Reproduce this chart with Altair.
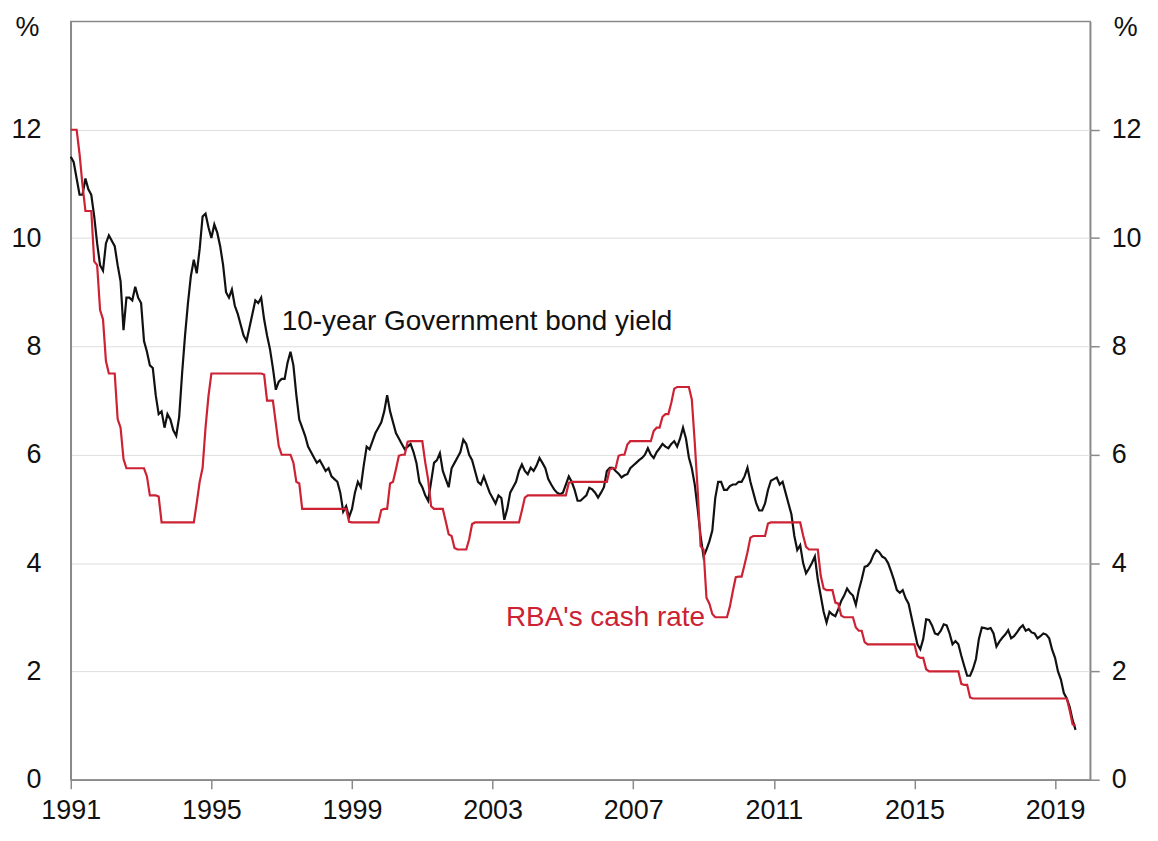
import altair as alt
import pandas as pd

# Monthly values, Jan 1991 .. Aug 2019
bond_yield = [
    11.5, 11.4, 11.1, 10.8, 10.8, 11.1, 10.9, 10.8, 10.4, 9.9, 9.5, 9.4,      # 1991
    9.9, 10.05, 9.95, 9.85, 9.5, 9.2, 8.3, 8.9, 8.9, 8.85, 9.1, 8.9,          # 1992
    8.8, 8.1, 7.9, 7.65, 7.6, 7.1, 6.75, 6.8, 6.5, 6.75, 6.65, 6.45,          # 1993
    6.35, 6.7, 7.5, 8.2, 8.8, 9.3, 9.6, 9.35, 9.8, 10.4, 10.45, 10.2,         # 1994
    10.0, 10.25, 10.1, 9.85, 9.5, 9.0, 8.9, 9.05, 8.75, 8.6, 8.4, 8.2,        # 1995
    8.1, 8.35, 8.6, 8.85, 8.8, 8.9, 8.5, 8.2, 7.95, 7.6, 7.2, 7.35,           # 1996
    7.4, 7.4, 7.7, 7.9, 7.65, 7.1, 6.65, 6.5, 6.35, 6.15, 6.05, 5.95,         # 1997
    5.85, 5.9, 5.8, 5.7, 5.75, 5.6, 5.55, 5.5, 5.3, 4.95, 5.05, 4.85,         # 1998
    5.0, 5.3, 5.5, 5.4, 5.8, 6.15, 6.1, 6.25, 6.4, 6.5, 6.6, 6.8,             # 1999
    7.1, 6.8, 6.6, 6.4, 6.3, 6.2, 6.1, 6.15, 6.2, 6.05, 5.85, 5.5,            # 2000
    5.4, 5.25, 5.15, 5.5, 5.85, 5.9, 6.03, 5.7, 5.55, 5.4, 5.75, 5.85,        # 2001
    5.95, 6.05, 6.28, 6.2, 6.0, 5.9, 5.7, 5.5, 5.45, 5.6, 5.45, 5.3,         # 2002
    5.2, 5.1, 5.25, 5.2, 4.8, 5.0, 5.3, 5.4, 5.5, 5.7, 5.82, 5.7,             # 2003
    5.64, 5.76, 5.7, 5.8, 5.94, 5.85, 5.75, 5.55, 5.45, 5.36, 5.3, 5.27,      # 2004
    5.3, 5.45, 5.6, 5.5, 5.35, 5.15, 5.15, 5.2, 5.25, 5.39, 5.36, 5.3,        # 2005
    5.21, 5.3, 5.4, 5.7, 5.76, 5.76, 5.7, 5.65, 5.58, 5.62, 5.64, 5.75,       # 2006
    5.8, 5.85, 5.9, 5.94, 6.0, 6.12, 6.0, 5.94, 6.05, 6.12, 6.2, 6.15,        # 2007
    6.12, 6.2, 6.25, 6.15, 6.3, 6.5, 6.3, 5.95, 5.75, 5.45, 5.0, 4.5,         # 2008
    4.12, 4.25, 4.4, 4.6, 5.2, 5.5, 5.5, 5.35, 5.35, 5.42, 5.45, 5.45,        # 2009
    5.5, 5.5, 5.6, 5.76, 5.5, 5.3, 5.1, 4.97, 4.97, 5.1, 5.35, 5.52,         # 2010
    5.55, 5.58, 5.45, 5.5, 5.3, 5.1, 4.9, 4.5, 4.24, 4.33, 4.0, 3.81,         # 2011
    3.9, 4.0, 4.12, 3.7, 3.4, 3.1, 2.9, 3.1, 3.05, 3.02, 3.15, 3.3,           # 2012
    3.4, 3.53, 3.45, 3.4, 3.23, 3.5, 3.7, 3.93, 3.95, 4.02, 4.15, 4.24,       # 2013
    4.2, 4.12, 4.09, 4.0, 3.85, 3.69, 3.5, 3.45, 3.5, 3.35, 3.25, 3.0,        # 2014
    2.75, 2.5, 2.41, 2.6, 2.96, 2.95, 2.85, 2.7, 2.68, 2.75, 2.87, 2.85,      # 2015
    2.7, 2.5, 2.56, 2.5, 2.29, 2.1, 1.92, 1.92, 2.05, 2.23, 2.6, 2.81,        # 2016
    2.8, 2.78, 2.8, 2.7, 2.46, 2.55, 2.62, 2.68, 2.76, 2.61, 2.65, 2.72,      # 2017
    2.8, 2.85, 2.75, 2.78, 2.72, 2.7, 2.61, 2.65, 2.7, 2.68, 2.61, 2.4,       # 2018
    2.25, 2.0, 1.85, 1.6, 1.5, 1.34, 1.1, 0.92,                               # 2019
]

cash_rate = [
    12.0, 12.0, 12.0, 11.55, 10.98, 10.5, 10.5, 10.5, 9.57, 9.5, 8.67, 8.5,   # 1991
    7.73, 7.5, 7.5, 7.5, 6.66, 6.5, 5.92, 5.75, 5.75, 5.75, 5.75, 5.75,       # 1992
    5.75, 5.75, 5.6, 5.25, 5.25, 5.25, 5.23, 4.75, 4.75, 4.75, 4.75, 4.75,    # 1993
    4.75, 4.75, 4.75, 4.75, 4.75, 4.75, 4.75, 5.11, 5.5, 5.76, 6.5, 7.08,     # 1994
    7.5, 7.5, 7.5, 7.5, 7.5, 7.5, 7.5, 7.5, 7.5, 7.5, 7.5, 7.5,               # 1995
    7.5, 7.5, 7.5, 7.5, 7.5, 7.5, 7.48, 7.0, 7.0, 7.0, 6.58, 6.16,           # 1996
    6.0, 6.0, 6.0, 6.0, 5.85, 5.5, 5.47, 5.0, 5.0, 5.0, 5.0, 5.0,             # 1997
    5.0, 5.0, 5.0, 5.0, 5.0, 5.0, 5.0, 5.0, 5.0, 5.0, 5.0, 4.76,              # 1998
    4.75, 4.75, 4.75, 4.75, 4.75, 4.75, 4.75, 4.75, 4.75, 4.75, 4.98, 5.0,    # 1999
    5.0, 5.47, 5.5, 5.73, 5.98, 6.0, 6.0, 6.24, 6.25, 6.25, 6.25, 6.25,       # 2000
    6.25, 5.86, 5.54, 5.05, 5.0, 5.0, 5.0, 5.0, 4.77, 4.53, 4.5, 4.28,        # 2001
    4.25, 4.25, 4.25, 4.25, 4.44, 4.72, 4.75, 4.75, 4.75, 4.75, 4.75, 4.75,   # 2002
    4.75, 4.75, 4.75, 4.75, 4.75, 4.75, 4.75, 4.75, 4.75, 4.75, 4.97, 5.21,   # 2003
    5.25, 5.25, 5.25, 5.25, 5.25, 5.25, 5.25, 5.25, 5.25, 5.25, 5.25, 5.25,   # 2004
    5.25, 5.25, 5.48, 5.5, 5.5, 5.5, 5.5, 5.5, 5.5, 5.5, 5.5, 5.5,            # 2005
    5.5, 5.5, 5.5, 5.5, 5.73, 5.75, 5.75, 5.98, 6.0, 6.0, 6.19, 6.25,         # 2006
    6.25, 6.25, 6.25, 6.25, 6.25, 6.25, 6.25, 6.44, 6.5, 6.5, 6.7, 6.75,      # 2007
    6.75, 6.96, 7.22, 7.25, 7.25, 7.25, 7.25, 7.25, 7.02, 6.23, 5.35, 4.31,   # 2008
    4.25, 3.36, 3.25, 3.06, 3.0, 3.0, 3.0, 3.0, 3.0, 3.2, 3.48, 3.74,         # 2009
    3.75, 3.75, 3.97, 4.2, 4.47, 4.5, 4.5, 4.5, 4.5, 4.5, 4.73, 4.75,         # 2010
    4.75, 4.75, 4.75, 4.75, 4.75, 4.75, 4.75, 4.75, 4.75, 4.75, 4.51, 4.3,    # 2011
    4.25, 4.25, 4.25, 4.25, 3.77, 3.53, 3.5, 3.5, 3.5, 3.27, 3.25, 3.03,      # 2012
    3.0, 3.0, 3.0, 3.0, 2.81, 2.75, 2.75, 2.54, 2.5, 2.5, 2.5, 2.5,           # 2013
    2.5, 2.5, 2.5, 2.5, 2.5, 2.5, 2.5, 2.5, 2.5, 2.5, 2.5, 2.5,               # 2014
    2.5, 2.28, 2.25, 2.25, 2.04, 2.0, 2.0, 2.0, 2.0, 2.0, 2.0, 2.0,           # 2015
    2.0, 2.0, 2.0, 2.0, 1.77, 1.75, 1.75, 1.52, 1.5, 1.5, 1.5, 1.5,           # 2016
    1.5, 1.5, 1.5, 1.5, 1.5, 1.5, 1.5, 1.5, 1.5, 1.5, 1.5, 1.5,               # 2017
    1.5, 1.5, 1.5, 1.5, 1.5, 1.5, 1.5, 1.5, 1.5, 1.5, 1.5, 1.5,               # 2018
    1.5, 1.5, 1.5, 1.5, 1.5, 1.28, 1.02, 1.0,                                 # 2019
]

start_month = "1991-01"
x_ticks = [1991, 1995, 1999, 2003, 2007, 2011, 2015, 2019]
y_ticks = [0, 2, 4, 6, 8, 10, 12]

labels = ["10-year Government bond yield", "RBA's cash rate"]
label_x = [1997.0, 2003.38]
label_y = [8.3, 2.84]

FONT = "Liberation Sans, Arial, sans-serif"
FS = 27
FS_TXT = 28
RED = "#cc2233"
AXIS_GREY = "#8a8a8a"

months = pd.period_range(start_month, periods=len(bond_yield), freq="M")
t = [p.year + (p.month - 1) / 12 for p in months]
df = pd.DataFrame({"t": t, "bond": bond_yield, "cash": cash_rate})
lab_df = pd.DataFrame({"label": labels, "x": label_x, "y": label_y})

x_scale = alt.Scale(domain=[1991, 2020], nice=False, zero=False)
y_scale = alt.Scale(domain=[0, 14], nice=False)

x_axis = alt.Axis(
    values=x_ticks, format="d", title=None, grid=False,
    domainColor=AXIS_GREY, domainWidth=1.5, tickColor=AXIS_GREY, tickWidth=1.5,
    tickSize=9, labelPadding=9, labelFontSize=FS, labelFont=FONT,
    labelColor="#111111", labelFlush=False, labelOverlap=False,
)

left_axis = alt.Axis(
    orient="left", values=y_ticks, format="d", ticks=False, labelPadding=30,
    grid=True, gridColor="#dedede", gridWidth=1,
    domainColor=AXIS_GREY, domainWidth=1.5,
    labelFontSize=FS, labelFont=FONT, labelColor="#111111",
    title="%", titleAngle=0, titleX=-44, titleY=-7, titleBaseline="top",
    titleAlign="center", titleFontSize=FS, titleFont=FONT,
    titleFontWeight="normal", titleColor="#111111",
)

right_axis = alt.Axis(
    orient="right", values=y_ticks, format="d", ticks=True, tickSize=9,
    tickColor=AXIS_GREY, tickWidth=1.5, labelPadding=12, grid=False,
    domainColor=AXIS_GREY, domainWidth=1.5,
    labelFontSize=FS, labelFont=FONT, labelColor="#111111",
    title="%", titleAngle=0, titleX=35, titleY=-7, titleBaseline="top",
    titleAlign="center", titleFontSize=FS, titleFont=FONT,
    titleFontWeight="normal", titleColor="#111111",
)

bond = alt.Chart(df).mark_line(color="#111111", strokeWidth=2.2).encode(
    x=alt.X("t:Q", scale=x_scale, axis=x_axis),
    y=alt.Y("bond:Q", scale=y_scale, axis=left_axis),
)

cash = alt.Chart(df).mark_line(color=RED, strokeWidth=2.2).encode(
    x=alt.X("t:Q", scale=x_scale, axis=x_axis),
    y=alt.Y("cash:Q", scale=y_scale, axis=right_axis),
)

text_bond = alt.Chart(lab_df.iloc[[0]]).mark_text(
    align="left", baseline="alphabetic", font=FONT, fontSize=FS_TXT, color="#111111"
).encode(
    x=alt.X("x:Q", scale=x_scale, axis=x_axis),
    y=alt.Y("y:Q", scale=y_scale, axis=None),
    text="label:N",
)

text_cash = alt.Chart(lab_df.iloc[[1]]).mark_text(
    align="left", baseline="alphabetic", font=FONT, fontSize=FS_TXT, color=RED
).encode(
    x=alt.X("x:Q", scale=x_scale, axis=x_axis),
    y=alt.Y("y:Q", scale=y_scale, axis=None),
    text="label:N",
)

chart = alt.layer(bond, cash, text_bond, text_cash).resolve_scale(
    y="independent"
).properties(
    width=1023, height=761,
    padding={"left": 63, "top": 12, "right": 60, "bottom": 50},
    autosize=alt.AutoSizeParams(type="none"),
    background="white",
).configure_view(
    stroke=AXIS_GREY, strokeWidth=1.5
)

chart.save("out.html", embed_options={"renderer": "svg", "actions": False})
